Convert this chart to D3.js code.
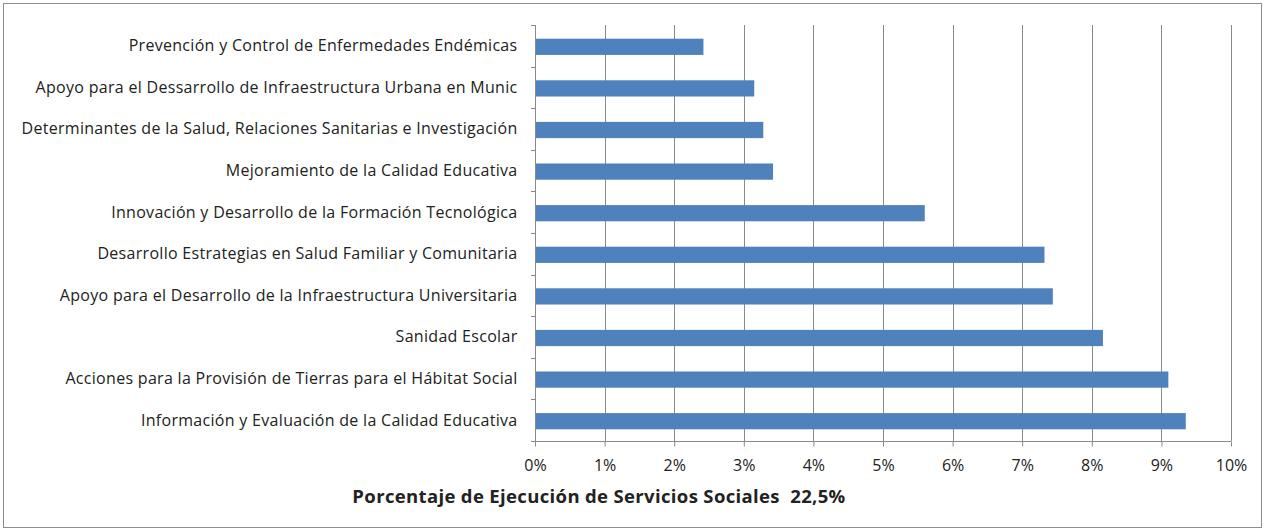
<!doctype html>
<html>
<head>
<meta charset="UTF-8">
<title>Porcentaje de Ejecución de Servicios Sociales</title>
<script src="https://d3js.org/d3.v7.min.js"></script>
<style>
  body { margin: 0; background: #fff; }
  text { font-family: "Open Sans", "Liberation Sans", Arial, sans-serif; fill: #222; }
</style>
</head>
<body>
<script>
var width = 1266, height = 531;

// categorias de arriba hacia abajo
var categories = [
  "Prevención y Control de Enfermedades Endémicas",
  "Apoyo para el Dessarrollo de Infraestructura Urbana en Munic",
  "Determinantes de la Salud, Relaciones Sanitarias e Investigación",
  "Mejoramiento de la Calidad Educativa",
  "Innovación y Desarrollo de la Formación Tecnológica",
  "Desarrollo Estrategias en Salud Familiar y Comunitaria",
  "Apoyo para el Desarrollo de la Infraestructura Universitaria",
  "Sanidad Escolar",
  "Acciones para la Provisión de Tierras para el Hábitat Social",
  "Información y Evaluación de la Calidad Educativa"
];
var values = [0.0242, 0.0315, 0.0328, 0.0342, 0.0560, 0.0732, 0.0744, 0.0816, 0.0910, 0.0935];
var xTicks = [0, 0.01, 0.02, 0.03, 0.04, 0.05, 0.06, 0.07, 0.08, 0.09, 0.10];
var title = "Porcentaje de Ejecución de Servicios Sociales  22,5%";

var svg = d3.select("body").append("svg")
    .attr("width", width)
    .attr("height", height);

svg.append("rect")
    .attr("x", 3.5).attr("y", 3.5)
    .attr("width", 1258).attr("height", 524)
    .attr("fill", "#fff").attr("stroke", "#8c8c8c");

var x = d3.scaleLinear().domain([0, 0.10]).range([535, 1231]);
var y = d3.scaleBand().domain(categories).range([25, 441]).paddingInner(0.61).paddingOuter(0.305);
var yb = d3.scaleBand().domain(categories).range([25, 441]);

// grid lines
svg.append("g").selectAll("line").data(xTicks.slice(1)).join("line")
    .attr("x1", function (d) { return Math.round(x(d)) + 0.5; })
    .attr("x2", function (d) { return Math.round(x(d)) + 0.5; })
    .attr("y1", 25).attr("y2", 441)
    .attr("stroke", "#8a8a8a");

// bars
svg.append("g").selectAll("rect").data(values).join("rect")
    .attr("x", x(0))
    .attr("y", function (d, i) { return y(categories[i]) + 1; })
    .attr("width", function (d) { return x(d) - x(0); })
    .attr("height", y.bandwidth())
    .attr("fill", "#4f81bd");

// x axis
var xAxis = svg.append("g")
    .attr("transform", "translate(0,441.5)")
    .call(d3.axisBottom(x).tickValues(xTicks).tickFormat(d3.format(".0%")).tickSize(5).tickPadding(13));
xAxis.select(".domain").attr("stroke", "#8a8a8a").attr("d", "M535,0H1231");
xAxis.selectAll(".tick line").attr("stroke", "#8a8a8a");
xAxis.selectAll(".tick text").style("font-size", "16px").attr("fill", "#222");

// y axis
var yAxis = svg.append("g")
    .attr("transform", "translate(535.5,0)")
    .call(d3.axisLeft(yb).tickSize(0).tickPadding(18));
yAxis.select(".domain").attr("stroke", "#8a8a8a").attr("d", "M0,25V441");
yAxis.selectAll(".tick text").style("font-size", "16px").style("letter-spacing", "0.3px")
    .attr("fill", "#222").attr("dy", "0.34em");
svg.append("g").selectAll("line").data(d3.range(categories.length + 1)).join("line")
    .attr("x1", 531).attr("x2", 535)
    .attr("y1", function (i) { return Math.round(25 + i * yb.step()) + 0.5; })
    .attr("y2", function (i) { return Math.round(25 + i * yb.step()) + 0.5; })
    .attr("stroke", "#8a8a8a");

svg.append("text")
    .attr("x", 599).attr("y", 503)
    .attr("text-anchor", "middle")
    .style("font-size", "18.5px").style("font-weight", "bold")
    .style("letter-spacing", "0.35px")
    .style("white-space", "pre")
    .text(title);
</script>
</body>
</html>
